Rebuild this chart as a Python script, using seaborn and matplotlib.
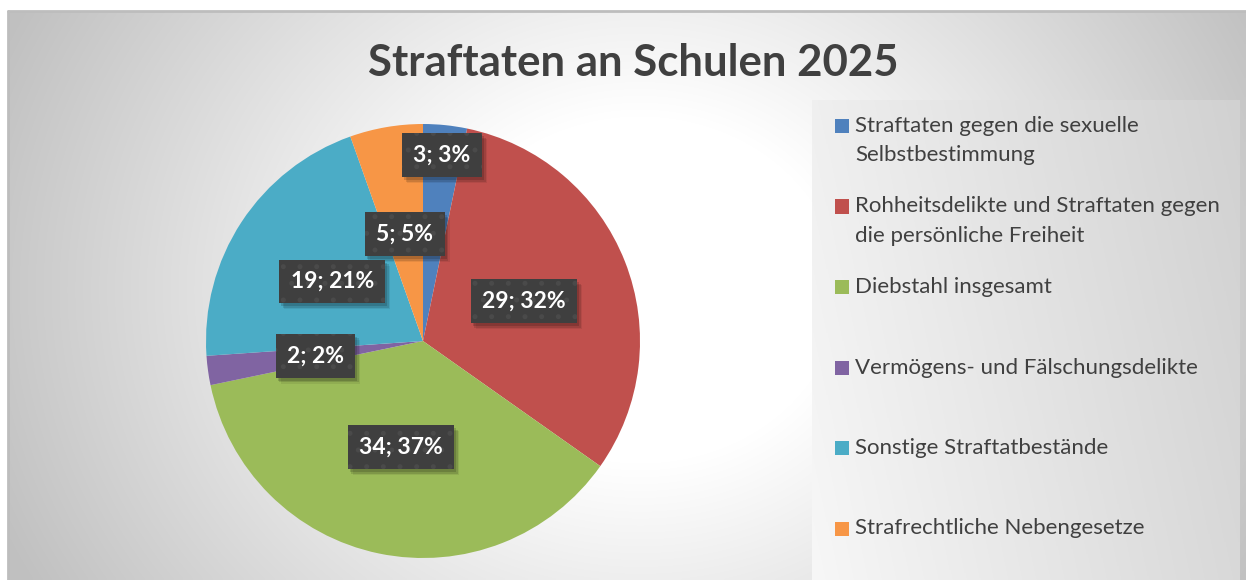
import textwrap

import matplotlib
matplotlib.use("Agg")
import matplotlib.pyplot as plt
from matplotlib.patches import Rectangle
import numpy as np
import seaborn as sns

# Data
categories = [
    "Straftaten gegen die sexuelle Selbstbestimmung",
    "Rohheitsdelikte und Straftaten gegen die persönliche Freiheit",
    "Diebstahl insgesamt",
    "Vermögens- und Fälschungsdelikte",
    "Sonstige Straftatbestände",
    "Strafrechtliche Nebengesetze",
]
counts = [3, 29, 34, 2, 19, 5]
title = "Straftaten an Schulen 2025"

sns.set_theme(style="white")
plt.rcParams["font.family"] = ["Lato", "DejaVu Sans"]
plt.rcParams["hatch.linewidth"] = 1.2

colors = ["#4F81BD", "#C0504D", "#9BBB59", "#8064A2", "#4BACC6", "#F79646"]
text_color = "#404040"

W, H, DPI = 1246, 580, 100
fig = plt.figure(figsize=(W / DPI, H / DPI), dpi=DPI, facecolor="white")


def px_rect(x0, y0, x1, y1):
    """Figure-fraction rectangle from pixel coordinates (origin top-left)."""
    return [x0 / W, 1 - y1 / H, (x1 - x0) / W, (y1 - y0) / H]


# Chart area background: soft radial gradient, white in the middle
bg = fig.add_axes(px_rect(8, 11, W, H), zorder=0)
xs = np.arange(8, W)
ys = np.arange(11, H)
X, Y = np.meshgrid(xs, ys)
d = np.hypot(X - 640, (Y - 290) * 1.15)
g = 255 - (255 - 192) * np.clip((d - 200) / 500, 0, 1)
bg.imshow(np.dstack([g, g, g]).astype(np.uint8), aspect="auto",
          extent=(0, 1, 0, 1), interpolation="bilinear")
bg.set_xlim(0, 1)
bg.set_ylim(0, 1)
bg.axis("off")
bg.plot([0, 0], [0, 1], color="#bdbdbd", lw=2, transform=bg.transAxes, clip_on=False)
bg.plot([0, 1], [1, 1], color="#bdbdbd", lw=2, transform=bg.transAxes, clip_on=False)

# Legend panel with its own horizontal gradient
lg = fig.add_axes(px_rect(812, 100, 1239, H), zorder=1)
lx = np.linspace(0, 1, 400)
ly = np.linspace(0, 1, 300)
LX, LY = np.meshgrid(lx, ly)
lgv = 247 - 38 * (0.8 * LX + 0.2 * LY)
lg.imshow(np.dstack([lgv, lgv, lgv]).astype(np.uint8), aspect="auto",
          extent=(0, 1, 0, 1), interpolation="bilinear")
lg.set_xlim(0, 1)
lg.set_ylim(1, 0)
lg.axis("off")

# Pie
ax = fig.add_axes(px_rect(423 - 217, 341 - 217, 423 + 217, 341 + 217), zorder=2)
ax.set_facecolor("none")
wedges, _ = ax.pie(counts, colors=colors, startangle=90, counterclock=False,
                   radius=1.0, wedgeprops=dict(linewidth=0))
ax.set_xlim(-1, 1)
ax.set_ylim(-1, 1)
ax.set_aspect("equal")
ax.axis("off")

# Data labels: dark callout boxes
total = sum(counts)
label_radius = [0.86, 0.5, 0.5, 0.5, 0.5, 0.5]
labels = []
cum = 0
for value, r in zip(counts, label_radius):
    mid = 90 - (cum + value / 2) / total * 360
    cum += value
    ang = np.deg2rad(mid)
    label = f"{value}; {round(100 * value / total)}%"
    t = ax.text(r * np.cos(ang), r * np.sin(ang), label, color="white",
                ha="center", va="center", fontsize=16.5, fontweight="bold",
                zorder=5,
                bbox=dict(boxstyle="square,pad=0.5", facecolor="#3f3f3f",
                          edgecolor="#4a4a4a", linewidth=0, hatch="."))
    labels.append(t)

# Soft drop shadows under the callout boxes, on top of the wedges
fig.canvas.draw()
renderer = fig.canvas.get_renderer()
to_data = ax.transData.inverted()
for t in labels:
    ext = t.get_bbox_patch().get_window_extent(renderer)
    for off, a in [(5, 0.07), (3.5, 0.12), (2, 0.15)]:
        (x0, y0), (x1, y1) = to_data.transform(
            [(ext.x0 + off, ext.y0 - off - 1), (ext.x1 + off, ext.y1 - off - 1)])
        ax.add_patch(Rectangle((x0, y0), x1 - x0, y1 - y0, facecolor="black",
                               edgecolor="none", alpha=a, zorder=4))

# Title
fig.text(633 / W, 1 - 63 / H, title, ha="center", va="center",
         fontsize=31.5, fontweight="bold", color=text_color)

# Legend entries
for i, (name, col) in enumerate(zip(categories, colors)):
    yc = 126 + i * 80.5
    fig.patches.append(Rectangle((835 / W, 1 - (yc + 7) / H), 14 / W, 14 / H,
                                 transform=fig.transFigure, facecolor=col,
                                 edgecolor="none", zorder=3))
    lines = textwrap.wrap(name, 36)
    for j, line in enumerate(lines):
        fig.text(855 / W, 1 - (yc + j * 29) / H, line, ha="left", va="center",
                 fontsize=16, color=text_color, zorder=4)

fig.savefig("out.png", dpi=DPI, facecolor="white")
